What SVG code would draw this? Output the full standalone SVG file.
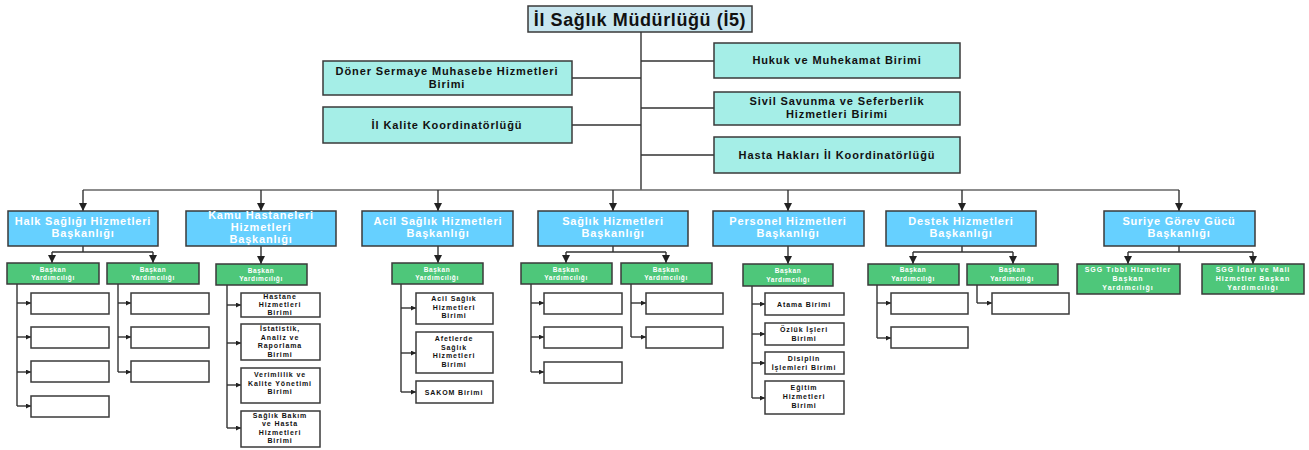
<svg xmlns="http://www.w3.org/2000/svg" width="1309" height="450" viewBox="0 0 1309 450">
<style>
rect{stroke:#3a3a3a;stroke-width:1.5}
.top{fill:#c8e6ef}
.l1{fill:#a5eee7}
.l2{fill:#66d0ff}
.gr{fill:#4ec77a}
.wh{fill:#ffffff}
text{font-family:"Liberation Sans",Arial,sans-serif;font-weight:bold;text-anchor:middle}
.tt{font-size:18px;fill:#111;letter-spacing:0.6px}
.t1{font-size:11px;fill:#111;letter-spacing:0.9px}
.t2{font-size:11px;fill:#ffffff;letter-spacing:0.8px}
.tg{font-size:6.5px;fill:#ffffff;letter-spacing:0.6px}
.ts{font-size:7px;fill:#ffffff;letter-spacing:1px}
.tw{font-size:7px;fill:#111;letter-spacing:0.9px}
.ln{stroke:#333;stroke-width:1.4;fill:none}
.bus{stroke:#666;stroke-width:1.6;fill:none}
</style>
<defs>
<marker id="ah" viewBox="0 0 10 10" refX="10" refY="5" markerWidth="5" markerHeight="5" markerUnits="userSpaceOnUse" orient="auto">
<path d="M0,0 L10,5 L0,10 z" fill="#222"/>
</marker>
<marker id="ahd" viewBox="0 0 10 10" refX="10" refY="5" markerWidth="8" markerHeight="8" markerUnits="userSpaceOnUse" orient="auto">
<path d="M0,0 L10,5 L0,10 z" fill="#222"/>
</marker>
</defs>

<g id="connectors">
<path class="ln" d="M641,32 V190"/>
<path class="ln" d="M641,61 H714 M572,78 H641 M641,108 H714 M572,125 H641 M641,155 H714"/>
<path class="bus" d="M83,190 H1179"/>
<g class="ln" marker-end="url(#ahd)">
<path d="M83,190 V211"/><path d="M261,190 V211"/><path d="M438,190 V211"/><path d="M613,190 V211"/>
<path d="M788,190 V211"/><path d="M962,190 V211"/><path d="M1179,190 V211"/>
</g>
<path class="ln" d="M83,246 V252 M52,252 H153 M613,246 V252 M566,252 H666 M962,246 V252 M913,252 H1013 M1179,246 V252 M1128,252 H1253"/>
<g class="ln" marker-end="url(#ahd)">
<path d="M52,252 V263"/><path d="M153,252 V263"/>
<path d="M261,246 V264"/>
<path d="M438,246 V263"/>
<path d="M566,252 V263"/><path d="M666,252 V263"/>
<path d="M788,246 V264"/>
<path d="M913,252 V264"/><path d="M1013,252 V264"/>
<path d="M1128,252 V264"/><path d="M1253,252 V264"/>
</g>
<path class="ln" d="M17,284 V406 M118,284 V372 M227,285 V428 M401,284 V392 M531,284 V372 M631,284 V337 M752,286 V398 M877,285 V338 M977,285 V303"/>
<g class="ln" marker-end="url(#ah)">
<path d="M17,303 H31"/><path d="M17,337 H31"/><path d="M17,372 H31"/><path d="M17,406 H31"/>
<path d="M118,303 H131"/><path d="M118,337 H131"/><path d="M118,372 H131"/>
<path d="M227,305 H241"/><path d="M227,343 H241"/><path d="M227,385 H241"/><path d="M227,428 H241"/>
<path d="M401,308 H416"/><path d="M401,353 H416"/><path d="M401,392 H416"/>
<path d="M531,303 H544"/><path d="M531,337 H544"/><path d="M531,372 H544"/>
<path d="M631,303 H646"/><path d="M631,337 H646"/>
<path d="M752,304 H765"/><path d="M752,334 H765"/><path d="M752,363 H765"/><path d="M752,398 H765"/>
<path d="M877,303 H891"/><path d="M877,338 H891"/>
<path d="M977,303 H992"/>
</g>
</g>

<g id="n-il-saglik"><rect class="top" x="528" y="6" width="224" height="26"/><text class="tt" x="640" y="25.5">İl Sağlık Müdürlüğü (İ5)</text></g>

<g id="n-doner"><rect class="l1" x="323" y="61" width="249" height="34"/><text class="t1" x="447" y="75">Döner Sermaye Muhasebe Hizmetleri</text><text class="t1" x="447" y="88">Birimi</text></g>
<g id="n-kalite"><rect class="l1" x="323" y="107" width="249" height="36"/><text class="t1" x="447" y="129">İl Kalite Koordinatörlüğü</text></g>
<g id="n-hukuk"><rect class="l1" x="714" y="43" width="246" height="35"/><text class="t1" x="837" y="64">Hukuk ve Muhekamat Birimi</text></g>
<g id="n-sivil"><rect class="l1" x="714" y="92" width="246" height="33"/><text class="t1" x="837" y="105">Sivil Savunma ve Seferberlik</text><text class="t1" x="837" y="118">Hizmetleri Birimi</text></g>
<g id="n-hasta"><rect class="l1" x="714" y="137" width="246" height="36"/><text class="t1" x="837" y="159">Hasta Hakları İl Koordinatörlüğü</text></g>

<g id="n-halk"><rect class="l2" x="8" y="211" width="150" height="35"/><text class="t2" x="83" y="225">Halk Sağlığı Hizmetleri</text><text class="t2" x="83" y="237">Başkanlığı</text></g>
<g id="n-kamu"><rect class="l2" x="186" y="211" width="150" height="35"/><text class="t2" x="261" y="219">Kamu Hastaneleri</text><text class="t2" x="261" y="231">Hizmetleri</text><text class="t2" x="261" y="243">Başkanlığı</text></g>
<g id="n-acil"><rect class="l2" x="362" y="211" width="151" height="35"/><text class="t2" x="438" y="225">Acil Sağlık Hizmetleri</text><text class="t2" x="438" y="237">Başkanlığı</text></g>
<g id="n-saglik"><rect class="l2" x="538" y="211" width="150" height="35"/><text class="t2" x="613" y="225">Sağlık Hizmetleri</text><text class="t2" x="613" y="237">Başkanlığı</text></g>
<g id="n-personel"><rect class="l2" x="713" y="211" width="151" height="35"/><text class="t2" x="788" y="225">Personel Hizmetleri</text><text class="t2" x="788" y="237">Başkanlığı</text></g>
<g id="n-destek"><rect class="l2" x="886" y="211" width="150" height="35"/><text class="t2" x="961" y="225">Destek Hizmetleri</text><text class="t2" x="961" y="237">Başkanlığı</text></g>
<g id="n-suriye"><rect class="l2" x="1104" y="211" width="151" height="35"/><text class="t2" x="1179" y="225">Suriye Görev Gücü</text><text class="t2" x="1179" y="237">Başkanlığı</text></g>

<g id="n-halk-by1"><rect class="gr" x="7" y="263" width="92" height="21"/><text class="tg" x="53" y="272">Başkan</text><text class="tg" x="53" y="280">Yardımcılığı</text></g>
<g id="n-halk-by2"><rect class="gr" x="107" y="263" width="92" height="21"/><text class="tg" x="153" y="272">Başkan</text><text class="tg" x="153" y="280">Yardımcılığı</text></g>
<g id="n-kamu-by"><rect class="gr" x="216" y="264" width="91" height="21"/><text class="tg" x="261" y="273">Başkan</text><text class="tg" x="261" y="281">Yardımcılığı</text></g>
<g id="n-acil-by"><rect class="gr" x="392" y="263" width="91" height="21"/><text class="tg" x="437" y="272">Başkan</text><text class="tg" x="437" y="280">Yardımcılığı</text></g>
<g id="n-saglik-by1"><rect class="gr" x="521" y="263" width="91" height="21"/><text class="tg" x="566" y="272">Başkan</text><text class="tg" x="566" y="280">Yardımcılığı</text></g>
<g id="n-saglik-by2"><rect class="gr" x="621" y="263" width="91" height="21"/><text class="tg" x="666" y="272">Başkan</text><text class="tg" x="666" y="280">Yardımcılığı</text></g>
<g id="n-personel-by"><rect class="gr" x="743" y="264" width="90" height="22"/><text class="tg" x="788" y="273">Başkan</text><text class="tg" x="788" y="282">Yardımcılığı</text></g>
<g id="n-destek-by1"><rect class="gr" x="868" y="264" width="91" height="21"/><text class="tg" x="913" y="272">Başkan</text><text class="tg" x="913" y="281">Yardımcılığı</text></g>
<g id="n-destek-by2"><rect class="gr" x="967" y="264" width="91" height="21"/><text class="tg" x="1012" y="272">Başkan</text><text class="tg" x="1012" y="281">Yardımcılığı</text></g>
<g id="n-sgg-tibbi"><rect class="gr" x="1077" y="264" width="103" height="30"/><text class="ts" x="1128" y="272">SGG Tıbbi Hizmetler</text><text class="ts" x="1128" y="281">Başkan</text><text class="ts" x="1128" y="290">Yardımcılığı</text></g>
<g id="n-sgg-idari"><rect class="gr" x="1202" y="264" width="102" height="30"/><text class="ts" x="1253" y="272">SGG İdari ve Mali</text><text class="ts" x="1253" y="281">Hizmetler Başkan</text><text class="ts" x="1253" y="290">Yardımcılığı</text></g>

<g id="n-halk-w1"><rect class="wh" x="31" y="293" width="78" height="21"/></g>
<g id="n-halk-w2"><rect class="wh" x="31" y="327" width="78" height="21"/></g>
<g id="n-halk-w3"><rect class="wh" x="31" y="361" width="78" height="21"/></g>
<g id="n-halk-w4"><rect class="wh" x="31" y="396" width="78" height="21"/></g>
<g id="n-halk-w5"><rect class="wh" x="131" y="293" width="78" height="21"/></g>
<g id="n-halk-w6"><rect class="wh" x="131" y="327" width="78" height="21"/></g>
<g id="n-halk-w7"><rect class="wh" x="131" y="361" width="78" height="21"/></g>

<g id="n-hastane"><rect class="wh" x="241" y="293" width="79" height="24"/><text class="tw" x="280" y="299">Hastane</text><text class="tw" x="280" y="307">Hizmetleri</text><text class="tw" x="280" y="315">Birimi</text></g>
<g id="n-istatistik"><rect class="wh" x="241" y="324" width="79" height="36"/><text class="tw" x="280" y="331">İstatistik,</text><text class="tw" x="280" y="339.5">Analiz ve</text><text class="tw" x="280" y="348">Raporlama</text><text class="tw" x="280" y="356.5">Birimi</text></g>
<g id="n-verimlilik"><rect class="wh" x="241" y="368" width="79" height="35"/><text class="tw" x="280" y="377">Verimlilik ve</text><text class="tw" x="280" y="385.5">Kalite Yönetimi</text><text class="tw" x="280" y="394">Birimi</text></g>
<g id="n-bakim"><rect class="wh" x="241" y="411" width="79" height="36"/><text class="tw" x="280" y="417.5">Sağlık Bakım</text><text class="tw" x="280" y="426">ve Hasta</text><text class="tw" x="280" y="434.5">Hizmetleri</text><text class="tw" x="280" y="443">Birimi</text></g>

<g id="n-acil-birim"><rect class="wh" x="416" y="293" width="77" height="31"/><text class="tw" x="454" y="301">Acil Sağlık</text><text class="tw" x="454" y="309.5">Hizmetleri</text><text class="tw" x="454" y="318">Birimi</text></g>
<g id="n-afet"><rect class="wh" x="416" y="332" width="77" height="41"/><text class="tw" x="454" y="341">Afetlerde</text><text class="tw" x="454" y="349.5">Sağlık</text><text class="tw" x="454" y="358">Hizmetleri</text><text class="tw" x="454" y="366.5">Birimi</text></g>
<g id="n-sakom"><rect class="wh" x="416" y="381" width="77" height="22"/><text class="tw" x="454" y="394.5">SAKOM Birimi</text></g>

<g id="n-saglik-w1"><rect class="wh" x="544" y="293" width="78" height="21"/></g>
<g id="n-saglik-w2"><rect class="wh" x="544" y="327" width="78" height="21"/></g>
<g id="n-saglik-w3"><rect class="wh" x="544" y="362" width="78" height="21"/></g>
<g id="n-saglik-w4"><rect class="wh" x="646" y="293" width="77" height="21"/></g>
<g id="n-saglik-w5"><rect class="wh" x="646" y="327" width="77" height="21"/></g>

<g id="n-atama"><rect class="wh" x="765" y="293" width="79" height="22"/><text class="tw" x="804" y="306.5">Atama Birimi</text></g>
<g id="n-ozluk"><rect class="wh" x="765" y="323" width="79" height="22"/><text class="tw" x="804" y="331.5">Özlük İşleri</text><text class="tw" x="804" y="340.5">Birimi</text></g>
<g id="n-disiplin"><rect class="wh" x="765" y="352" width="79" height="22"/><text class="tw" x="804" y="360.5">Disiplin</text><text class="tw" x="804" y="369.5">İşlemleri Birimi</text></g>
<g id="n-egitim"><rect class="wh" x="765" y="381" width="79" height="33"/><text class="tw" x="804" y="389.5">Eğitim</text><text class="tw" x="804" y="398.5">Hizmetleri</text><text class="tw" x="804" y="407.5">Birimi</text></g>

<g id="n-destek-w1"><rect class="wh" x="891" y="293" width="77" height="21"/></g>
<g id="n-destek-w2"><rect class="wh" x="891" y="327" width="77" height="21"/></g>
<g id="n-destek-w3"><rect class="wh" x="992" y="293" width="77" height="21"/></g>
</svg>
